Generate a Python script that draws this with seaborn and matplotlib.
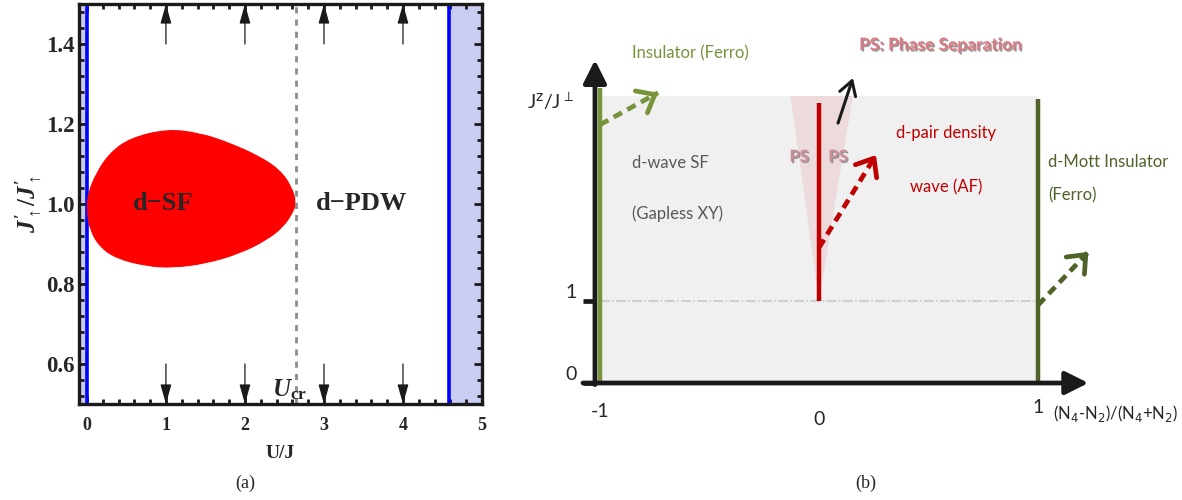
import matplotlib
matplotlib.use('Agg')
import matplotlib.pyplot as plt
import matplotlib.patheffects as pe
from matplotlib.path import Path
from matplotlib.patches import PathPatch
from matplotlib.ticker import MultipleLocator
import seaborn as sns

#%% data - panel (a), d-SF lobe and phase boundaries
sf_upper_u = [0.0, 0.017, 0.12, 0.29, 0.544, 1.01, 1.43, 1.81, 2.19, 2.44, 2.59, 2.645]
sf_upper_j = [0.985, 1.027, 1.077, 1.127, 1.164, 1.187, 1.177, 1.152, 1.118, 1.085, 1.043, 1.004]
sf_lower_u = [0.0, 0.04, 0.165, 0.376, 0.756, 1.09, 1.515, 1.937, 2.27, 2.485, 2.61, 2.645]
sf_lower_j = [0.985, 0.935, 0.893, 0.864, 0.845, 0.841, 0.852, 0.877, 0.91, 0.943, 0.981, 1.004]
blue_u = [0.0, 4.58]
u_cr = 2.65
arrow_u = [1, 2, 3, 4]
u_ticks = [0, 1, 2, 3, 4, 5]
j_ticks = [0.6, 0.8, 1.0, 1.2, 1.4]

#%% data - panel (b), schematic phase diagram
m_edges = [-1, 1]
jz_top = 3.5
left_green_top = 3.6
right_green_top = 3.46
ps_line = [1.0, 3.41]
ps_wedge_x = [-0.13, 0.155, 0.0]
ps_wedge_y = [3.5, 3.5, 1.0]
b_xticks = [-1, 0, 1]
b_xtick_y = [-0.35, -0.44, -0.30]
b_yticks = [0, 1]
green_arrow = [(-1.0, 3.15), (-0.735, 3.54)]
mott_arrow = [(1.0, 0.95), (1.23, 1.6)]
pdw_arrow = [(0.0, 1.65), (0.26, 2.78)]
ps_arrow = [(0.087, 3.17), (0.155, 3.72)]


def smooth_closed_path(xs, ys):
    # quadratic bezier through the midpoints, the read points act as control points
    pts = list(zip(xs, ys))
    mid = lambda a, b: ((a[0] + b[0]) / 2, (a[1] + b[1]) / 2)
    verts = [mid(pts[-1], pts[0])]
    codes = [Path.MOVETO]
    for i in range(len(pts)):
        verts += [pts[i], mid(pts[i], pts[(i + 1) % len(pts)])]
        codes += [Path.CURVE3, Path.CURVE3]
    verts.append(verts[0])
    codes.append(Path.CLOSEPOLY)
    return Path(verts, codes)


def dashed_arrow(ax, start, end, color, lw=3.4):
    (sx, sy), (ex, ey) = start, end
    ax.plot([sx, ex], [sy, ey], color=color, lw=lw, ls=(0, (2.0, 1.3)),
            solid_capstyle='butt', dash_capstyle='butt')
    ax.annotate('', xy=end, xytext=(sx + 0.93 * (ex - sx), sy + 0.93 * (ey - sy)),
                arrowprops=dict(arrowstyle='->,head_length=0.55,head_width=0.45',
                                color=color, lw=lw, shrinkA=0, shrinkB=0,
                                mutation_scale=20))


def panel_a(fig):
    ax = fig.add_axes([79 / 1182, 96 / 500, 403 / 1182, 400 / 500])
    ax.set_xlim(-0.1, 5)
    ax.set_ylim(0.5, 1.5)

    # blue bands at the edges
    ax.axvspan(-0.1, blue_u[0], color='#c9cdf1', lw=0, zorder=0)
    ax.axvspan(blue_u[1], 5, color='#c9cdf1', lw=0, zorder=0)
    for u in blue_u:
        ax.axvline(u, color='#0000ff', lw=2.6, zorder=1)

    # d-SF lobe
    xs = sf_upper_u + sf_lower_u[-2:0:-1]
    ys = sf_upper_j + sf_lower_j[-2:0:-1]
    ax.add_patch(PathPatch(smooth_closed_path(xs, ys), facecolor='#ff0000',
                           edgecolor='#ff0000', lw=0.8))

    ax.axvline(u_cr, color='#8c8c8c', lw=2, ls=(0, (2.2, 2.2)))

    for u in arrow_u:
        ax.annotate('', xy=(u, 1.5), xytext=(u, 1.4),
                    arrowprops=dict(arrowstyle='-|>,head_length=1.0,head_width=0.28',
                                    color='k', lw=0.9, shrinkA=0, shrinkB=0))
        ax.annotate('', xy=(u, 0.5), xytext=(u, 0.6),
                    arrowprops=dict(arrowstyle='-|>,head_length=1.0,head_width=0.28',
                                    color='k', lw=0.9, shrinkA=0, shrinkB=0))

    serif = 'Liberation Serif'
    ax.text(0.96, 1.0, 'd\u2212SF', family=serif, weight='bold', fontsize=19,
            ha='center', va='center')
    ax.text(3.48, 1.0, 'd\u2212PDW', family=serif, weight='bold', fontsize=19,
            ha='center', va='center')
    ax.text(2.57, 0.537, r'$U_{\rm cr}$', fontsize=18, ha='center', va='center')

    ax.set_xticks(u_ticks)
    ax.set_yticks(j_ticks)
    ax.set_xticklabels([str(t) for t in u_ticks], family=serif, weight='bold', fontsize=13)
    ax.set_yticklabels([f'{t:.1f}' for t in j_ticks], family=serif, weight='bold', fontsize=16.5)
    ax.xaxis.set_minor_locator(MultipleLocator(0.2))
    ax.yaxis.set_minor_locator(MultipleLocator(0.04))
    ax.tick_params(which='both', direction='in', top=True, right=True, bottom=True,
                   left=True, width=2, color='k')
    ax.tick_params(which='major', length=6)
    ax.tick_params(which='minor', length=3.5)
    ax.tick_params(axis='x', pad=9)
    ax.tick_params(axis='y', pad=3)
    for sp in ax.spines.values():
        sp.set_linewidth(2.4)
        sp.set_color('k')

    ax.set_xlabel('U/J', family=serif, weight='bold', fontsize=14, labelpad=8)
    ax.set_ylabel(r'$J^{\prime}_{\uparrow}/J^{\prime}_{\uparrow}$', fontsize=18, labelpad=2)
    return ax


def panel_b(fig):
    ax = fig.add_axes([500 / 1182, 60 / 500, 682 / 1182, 440 / 500])
    ax.set_xlim(-1.4566, 1.6575)
    ax.set_ylim(-0.695, 4.671)
    ax.axis('off')

    sans = 'Lato'
    fs = 12

    # shaded region and phase separation wedge
    ax.fill_between(m_edges, 0, jz_top, color='#f0f0f0', lw=0)
    ax.fill(ps_wedge_x, ps_wedge_y, color='#ecdadd', lw=0)
    ax.plot(m_edges, [1, 1], color='#c4c4c4', lw=1.1, ls='-.')

    # phase boundaries
    ax.plot([m_edges[0], m_edges[0]], [0, left_green_top], color='#77933c', lw=3.2,
            solid_capstyle='butt')
    ax.plot([m_edges[1], m_edges[1]], [0, right_green_top], color='#4f6228', lw=3.2,
            solid_capstyle='butt')
    ax.plot([0, 0], ps_line, color='#c00000', lw=3.2, solid_capstyle='butt')

    # axes with arrows
    ax.annotate('', xy=(-1.023, 3.94), xytext=(-1.023, -0.02),
                arrowprops=dict(arrowstyle='-|>,head_length=0.7,head_width=0.35',
                                color='k', lw=3.4, shrinkA=0, shrinkB=0, mutation_scale=20))
    ax.annotate('', xy=(1.23, 0), xytext=(-1.078, 0),
                arrowprops=dict(arrowstyle='-|>,head_length=0.7,head_width=0.35',
                                color='k', lw=3.4, shrinkA=0, shrinkB=0, mutation_scale=20))
    for y in b_yticks:
        ax.plot([-1.078, -1.023], [y, y], color='k', lw=3.4, solid_capstyle='butt')

    # tick labels
    for y in b_yticks:
        ax.text(-1.13, y + 0.1, str(y), family=sans, fontsize=fs + 2, ha='center', va='center')
    for x, y in zip(b_xticks, b_xtick_y):
        ax.text(x, y, str(x), family=sans, fontsize=fs + 2, ha='center', va='center')
    ax.text(1.068, -0.37, r'(N$_{4}$-N$_{2}$)/(N$_{4}$+N$_{2}$)', family=sans, fontsize=fs,
            ha='left', va='center', math_fontfamily='dejavusans')
    ax.text(-1.333, 3.43, r'J$^{\mathrm{z}}$/J$^{\perp}$', family=sans, fontsize=fs + 2,
            ha='left', va='center', math_fontfamily='dejavusans')

    # arrows
    dashed_arrow(ax, *green_arrow, '#77933c')
    dashed_arrow(ax, *mott_arrow, '#4f6228')
    dashed_arrow(ax, *pdw_arrow, '#c00000')
    ax.annotate('', xy=ps_arrow[1], xytext=ps_arrow[0],
                arrowprops=dict(arrowstyle='->,head_length=0.5,head_width=0.3',
                                color='k', lw=2.2, shrinkA=0, shrinkB=0, mutation_scale=20))

    # labels
    shadow = [pe.withSimplePatchShadow(offset=(1, -1), shadow_rgbFace='#8a8a8a', alpha=0.9)]
    ax.text(-0.854, 4.02, 'Insulator (Ferro)', family=sans, fontsize=fs, color='#77933c',
            ha='left', va='center')
    ax.text(0.183, 4.12, 'PS: Phase Separation', family=sans, fontsize=fs + 0.5,
            color='#e07a84', ha='left', va='center', weight='bold', path_effects=shadow)
    ax.text(-0.091, 2.76, 'PS', family=sans, fontsize=fs, color='#d08e96', ha='center',
            va='center', weight='bold', path_effects=shadow)
    ax.text(0.087, 2.76, 'PS', family=sans, fontsize=fs, color='#d08e96', ha='center',
            va='center', weight='bold', path_effects=shadow)
    ax.text(-0.854, 2.68, 'd-wave SF', family=sans, fontsize=fs, color='#595959',
            ha='left', va='center')
    ax.text(-0.854, 2.07, '(Gapless XY)', family=sans, fontsize=fs, color='#595959',
            ha='left', va='center')
    ax.text(0.58, 3.05, 'd-pair density', family=sans, fontsize=fs, color='#c00000',
            ha='center', va='center')
    ax.text(0.58, 2.39, 'wave (AF)', family=sans, fontsize=fs, color='#c00000',
            ha='center', va='center')
    ax.text(1.046, 2.70, 'd-Mott Insulator', family=sans, fontsize=fs, color='#4f6228',
            ha='left', va='center')
    ax.text(1.046, 2.29, '(Ferro)', family=sans, fontsize=fs, color='#4f6228',
            ha='left', va='center')
    return ax


def main():
    sns.set_theme(style='white')
    plt.rcParams['font.family'] = ['Liberation Serif', 'DejaVu Sans']
    plt.rcParams['mathtext.fontset'] = 'custom'
    plt.rcParams['mathtext.rm'] = 'Liberation Serif:bold'
    plt.rcParams['mathtext.bf'] = 'Liberation Serif:bold'
    plt.rcParams['mathtext.it'] = 'Liberation Serif:italic:bold'

    fig = plt.figure(figsize=(11.82, 5), dpi=100)
    panel_a(fig)
    panel_b(fig)
    fig.text(245 / 1182, 1 - 483 / 500, '(a)', family='Liberation Serif', fontsize=13,
             ha='center', va='center')
    fig.text(866 / 1182, 1 - 483 / 500, '(b)', family='Liberation Serif', fontsize=13,
             ha='center', va='center')
    fig.savefig('out.png', dpi=100)


if __name__ == '__main__':
    main()
